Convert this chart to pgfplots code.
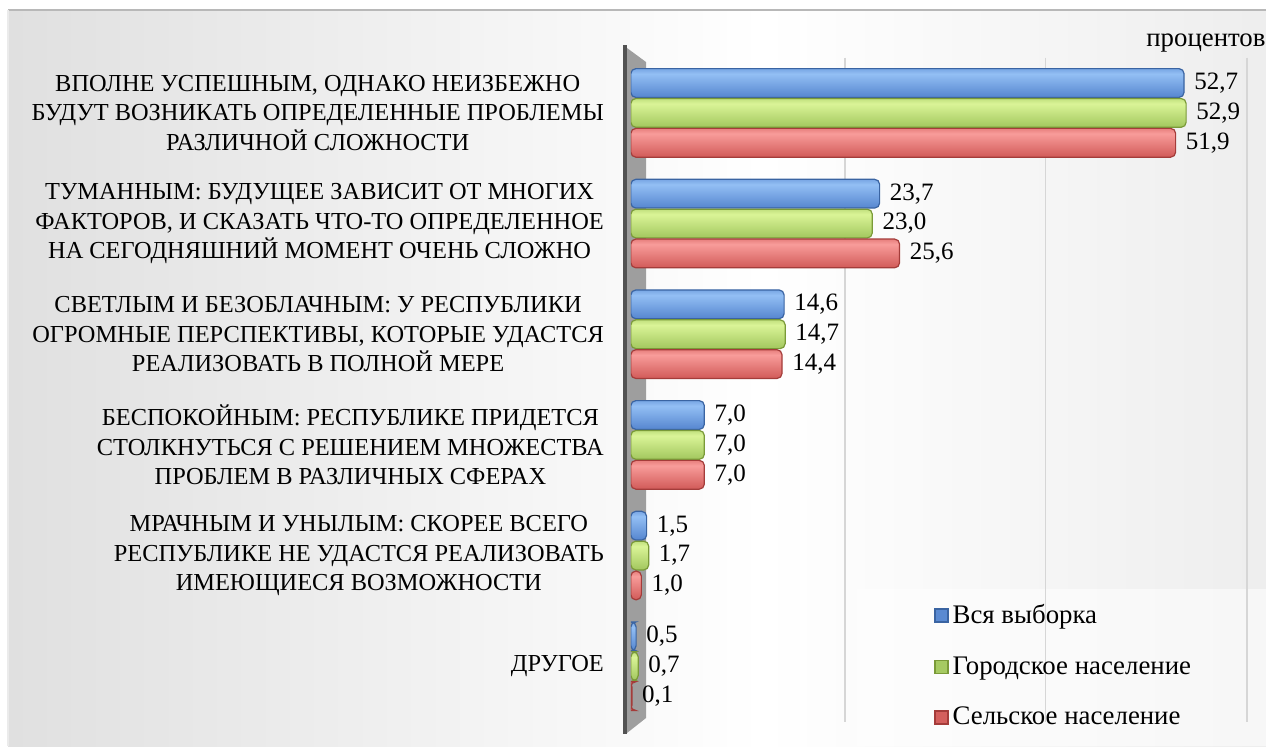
\documentclass[border=0pt]{standalone}
\usepackage{pgfplots}
\pgfplotsset{compat=1.18}
\usepackage{fontspec}
\setmainfont{Liberation Serif}
\definecolor{bE}{HTML}{3A64A2}
\definecolor{bM}{HTML}{5A8AD2}
\definecolor{bH}{HTML}{93BFF4}
\definecolor{gE}{HTML}{7A9A38}
\definecolor{gM}{HTML}{A6CA62}
\definecolor{gH}{HTML}{DAF497}
\definecolor{rE}{HTML}{A43C3A}
\definecolor{rM}{HTML}{D45F5D}
\definecolor{rH}{HTML}{F89C9A}
\definecolor{bgL}{HTML}{C6C6C6}
\definecolor{bgR}{HTML}{D8D8D8}
\pgfdeclareverticalshading{blueshade}{100bp}{color(0bp)=(bE); color(28bp)=(bM); color(66bp)=(bH); color(85bp)=(bM); color(100bp)=(bE)}
\pgfdeclareverticalshading{greenshade}{100bp}{color(0bp)=(gE); color(28bp)=(gM); color(66bp)=(gH); color(85bp)=(gM); color(100bp)=(gE)}
\pgfdeclareverticalshading{redshade}{100bp}{color(0bp)=(rE); color(28bp)=(rM); color(66bp)=(rH); color(85bp)=(rM); color(100bp)=(rE)}
\pgfdeclarehorizontalshading{bgshade}{100bp}{color(0bp)=(bgL); color(55bp)=(white); color(100bp)=(bgR)}
\newcommand{\chfont}{\fontsize{12.2}{14.8}\selectfont}
\newcommand{\valfont}{\fontsize{12.5}{14}\selectfont}
\newcommand{\legfont}{\fontsize{13.4}{15}\selectfont}
\pgfplotsset{
  cyl/.style={xbar, bar width=0.26, shade, line width=0.6pt, rounded corners=2.5pt,
    forget plot, nodes near coords},
  sB/.style={cyl, bar shift=-0.27, shading=blueshade, draw=bE},
  sG/.style={cyl, bar shift=0, shading=greenshade, draw=gE},
  sR/.style={cyl, bar shift=0.27, shading=redshade, draw=rE},
}
\begin{document}
\begin{tikzpicture}[x=0.5pt,y=-0.5pt]
\useasboundingbox (0,0) rectangle (1266,746);
\fill[white] (0,0) rectangle (1266,746);
\shade[shading=bgshade] (8,10) rectangle (1266,746);
\draw[color=black!28, line width=1pt] (8,10) -- (1266,10);
\draw[color=black!8, line width=0.8pt] (8,10) -- (8,746);
% wall
\fill[black!38] (627,48) -- (646,62) -- (646,718) -- (627,733) -- cycle;
\draw[line width=2pt, color=black!68] (625,45) -- (625,734);
% legend box
\fill[white, opacity=0.55] (857,589) rectangle (1266,746);
\node[anchor=base west, font=\legfont, inner sep=0pt] at (1146,46) {процентов};
\begin{axis}[
  at={(601,652)}, anchor=south west,
  scale only axis, width=317pt, height=332pt,
  xmin=0, xmax=60.4, ymin=-0.5, ymax=5.5, y dir=reverse,
  xbar, bar width=0.26,
  ytick={0,1,2,3,4,5},
  yticklabels={
    {ВПОЛНЕ УСПЕШНЫМ, ОДНАКО НЕИЗБЕЖНО\\БУДУТ ВОЗНИКАТЬ ОПРЕДЕЛЕННЫЕ ПРОБЛЕМЫ\\РАЗЛИЧНОЙ СЛОЖНОСТИ},
    {ТУМАННЫМ: БУДУЩЕЕ ЗАВИСИТ ОТ МНОГИХ\\ФАКТОРОВ, И СКАЗАТЬ ЧТО-ТО ОПРЕДЕЛЕННОЕ\\НА СЕГОДНЯШНИЙ МОМЕНТ ОЧЕНЬ СЛОЖНО},
    {СВЕТЛЫМ И БЕЗОБЛАЧНЫМ: У РЕСПУБЛИКИ\\ОГРОМНЫЕ ПЕРСПЕКТИВЫ, КОТОРЫЕ УДАСТСЯ\\РЕАЛИЗОВАТЬ В ПОЛНОЙ МЕРЕ},
    {БЕСПОКОЙНЫМ: РЕСПУБЛИКЕ ПРИДЕТСЯ\\СТОЛКНУТЬСЯ С РЕШЕНИЕМ МНОЖЕСТВА\\ПРОБЛЕМ В РАЗЛИЧНЫХ СФЕРАХ},
    {МРАЧНЫМ И УНЫЛЫМ: СКОРЕЕ ВСЕГО\\РЕСПУБЛИКЕ НЕ УДАСТСЯ РЕАЛИЗОВАТЬ\\ИМЕЮЩИЕСЯ ВОЗМОЖНОСТИ},
    {ДРУГОЕ}},
  yticklabel style={font=\chfont, align=center, xshift=-5.7pt},
  xtick={20.4,39.5,58.7}, xticklabels={},
  xmajorgrids, grid style={color=black!16, line width=0.7pt},
  axis line style={draw=none}, tick style={draw=none},
  every node near coord/.append style={font=\valfont, text=black, xshift=1.5pt},
  /pgf/number format/fixed, /pgf/number format/fixed zerofill,
  /pgf/number format/precision=1, /pgf/number format/use comma,
  /pgf/number format/assume math mode=true,
  legend style={at={(0.478,0.183)}, anchor=north west, draw=none, fill=none,
    font=\legfont, row sep=11pt, inner sep=0pt},
  legend cell align=left,
]
% Вся выборка
\addplot[sB] coordinates {(52.7,0)};
\addplot[sB] coordinates {(23.7,1)};
\addplot[sB] coordinates {(14.6,2)};
\addplot[sB] coordinates {(7.0,3)};
\addplot[sB] coordinates {(1.5,4)};
\addplot[sB] coordinates {(0.5,5)};
% Городское население
\addplot[sG] coordinates {(52.9,0)};
\addplot[sG] coordinates {(23.0,1)};
\addplot[sG] coordinates {(14.7,2)};
\addplot[sG] coordinates {(7.0,3)};
\addplot[sG] coordinates {(1.7,4)};
\addplot[sG] coordinates {(0.7,5)};
% Сельское население
\addplot[sR] coordinates {(51.9,0)};
\addplot[sR] coordinates {(25.6,1)};
\addplot[sR] coordinates {(14.4,2)};
\addplot[sR] coordinates {(7.0,3)};
\addplot[sR] coordinates {(1.0,4)};
\addplot[sR] coordinates {(0.1,5)};
\addlegendimage{legend image code/.code={\draw[sharp corners, fill=bM, draw=bE, line width=0.8pt] (0pt,-3.2pt) rectangle (6.4pt,3.2pt);}}
\addlegendentry{Вся выборка}
\addlegendimage{legend image code/.code={\draw[sharp corners, fill=gM, draw=gE, line width=0.8pt] (0pt,-3.2pt) rectangle (6.4pt,3.2pt);}}
\addlegendentry{Городское население}
\addlegendimage{legend image code/.code={\draw[sharp corners, fill=rM, draw=rE, line width=0.8pt] (0pt,-3.2pt) rectangle (6.4pt,3.2pt);}}
\addlegendentry{Сельское население}
\end{axis}
\end{tikzpicture}
\end{document}
